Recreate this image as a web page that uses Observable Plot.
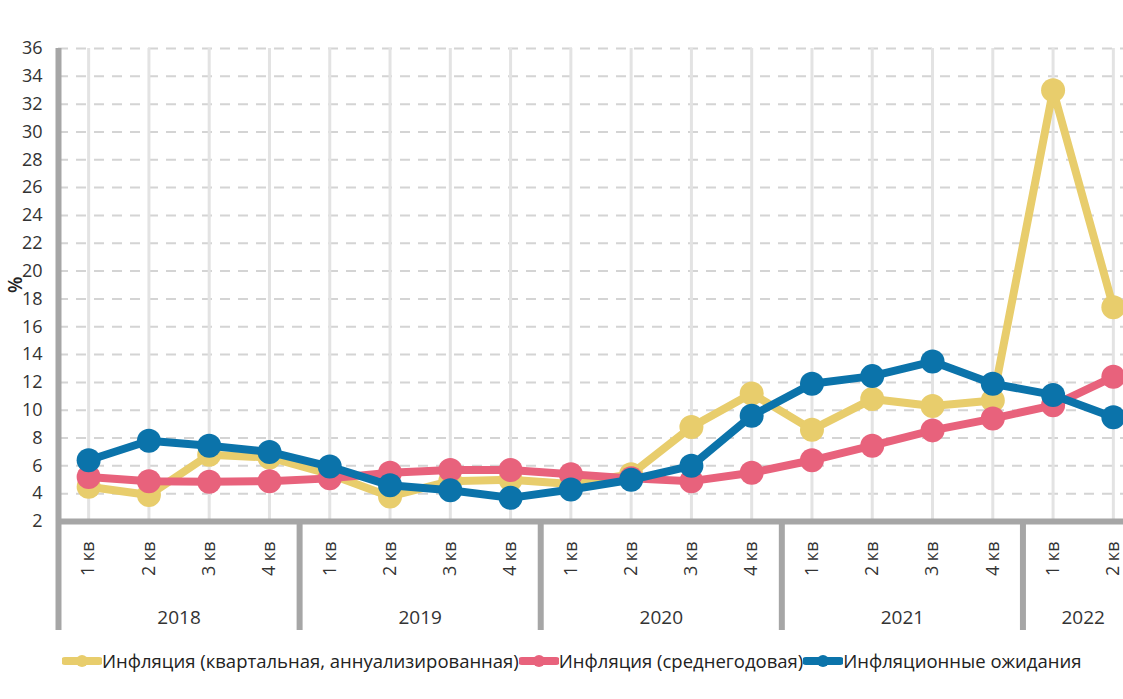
<!DOCTYPE html>
<html><head><meta charset="utf-8">
<script src="https://cdn.jsdelivr.net/npm/d3@7"></script>
<script src="https://cdn.jsdelivr.net/npm/@observablehq/plot@0.6"></script>
<style>
body{margin:0;background:#fff;font-family:"Open Sans","Noto Sans",sans-serif;}
#chart{width:1123px;overflow:hidden;}
#chart svg{overflow:hidden;}
.legend{display:flex;align-items:center;padding-left:62px;margin-top:8px;font-size:18.5px;color:#222;white-space:nowrap;}
.legend .item{display:flex;align-items:center;}
.legend svg{display:block;margin-right:0px;}
</style></head><body>
<div id="chart"></div>
<div class="legend" id="legend"></div>
<script>
const years = [2018, 2019, 2020, 2021, 2022];
const quarterLabels = ["1 кв","2 кв","3 кв","4 кв","1 кв","2 кв","3 кв","4 кв","1 кв","2 кв","3 кв","4 кв","1 кв","2 кв","3 кв","4 кв","1 кв","2 кв"];
const quarterYears = [2018,2018,2018,2018,2019,2019,2019,2019,2020,2020,2020,2020,2021,2021,2021,2021,2022,2022];
const yTicks = [2,4,6,8,10,12,14,16,18,20,22,24,26,28,30,32,34,36];
const yLabel = "%";

const inflQuarterly = [4.5, 3.9, 6.8, 6.6, 5.4, 3.8, 4.9, 5.0, 4.7, 5.4, 8.8, 11.2, 8.6, 10.8, 10.3, 10.7, 33.0, 17.4];
const inflAverage   = [5.2, 4.9, 4.85, 4.9, 5.1, 5.5, 5.7, 5.7, 5.4, 5.1, 4.9, 5.5, 6.4, 7.45, 8.55, 9.4, 10.35, 12.4];
const inflExpect    = [6.4, 7.8, 7.45, 7.0, 5.95, 4.6, 4.25, 3.7, 4.3, 5.0, 6.0, 9.6, 11.9, 12.45, 13.5, 11.9, 11.1, 9.5];

const seriesNames = ["Инфляция (квартальная, аннуализированная)", "Инфляция (среднегодовая)", "Инфляционные ожидания"];
const seriesColors = ["#e8cd6c", "#e8627c", "#0b73aa"];
const seriesValues = [inflQuarterly, inflAverage, inflExpect];

const idx = quarterLabels.map((_, i) => i);
const yearFirst = years.map(y => quarterYears.indexOf(y));
const yearLast = years.map(y => quarterYears.lastIndexOf(y));
const yearBounds = yearFirst.map(i => i - 0.5);
const yearCenters = years.map((y, k) => (yearFirst[k] + yearLast[k]) / 2);

const axisGrey = "#a6a6a6";

const seriesMarks = seriesValues.flatMap((vals, s) => {
  const data = vals.map((v, i) => ({i, v}));
  return [
    Plot.line(data, {x: "i", y: "v", stroke: seriesColors[s], strokeWidth: 8, strokeLinejoin: "round"}),
    Plot.dot(data, {x: "i", y: "v", fill: seriesColors[s], r: 12, stroke: "none"})
  ];
});

const chart = Plot.plot({
  width: 1123,
  height: 640,
  marginTop: 48,
  marginBottom: 119,
  marginLeft: 58,
  marginRight: -20,
  style: {fontFamily: '"Open Sans","Noto Sans",sans-serif', fontSize: "18px", color: "#333", background: "white"},
  x: {domain: [-0.5, quarterLabels.length - 0.5]},
  y: {domain: [2, 36]},
  marks: [
    Plot.gridY(yTicks.filter(t => t > 2), {stroke: "#d4d4d4", strokeOpacity: 1, strokeWidth: 2, strokeDasharray: "10,8"}),
    Plot.gridX(idx, {stroke: "#e3e3e3", strokeOpacity: 1, strokeWidth: 3}),
    Plot.axisY(yTicks, {tickSize: 0, tickPadding: 16, fontSize: 18, label: null}),
    Plot.text([yLabel], {frameAnchor: "left", rotate: -90, dx: -43, dy: 8, fontSize: 19, fontWeight: "600", fill: "#222"}),
    Plot.axisX(idx, {tickSize: 0, tickPadding: 20, tickRotate: -90, fontSize: 18, tickFormat: i => quarterLabels[i], label: null}),
    Plot.axisX(yearCenters, {tickSize: 0, tickPadding: 89, fontSize: 19, tickFormat: d => String(years[yearCenters.indexOf(d)]), label: null}),
    Plot.axisX(yearBounds, {tickSize: 109, stroke: axisGrey, strokeWidth: 6, strokeOpacity: 1, tickFormat: () => "", label: null}),
    Plot.ruleY([2], {stroke: axisGrey, strokeWidth: 6}),
    Plot.ruleX([-0.5], {stroke: axisGrey, strokeWidth: 6}),
    ...seriesMarks
  ]
});
document.getElementById("chart").appendChild(chart);

const legend = document.getElementById("legend");
seriesNames.forEach((name, s) => {
  const item = document.createElement("div");
  item.className = "item";
  item.innerHTML = `<svg width="40" height="16"><line x1="3" y1="8" x2="37" y2="8" stroke="${seriesColors[s]}" stroke-width="8" stroke-linecap="round"/><circle cx="20" cy="8" r="6" fill="${seriesColors[s]}"/></svg><span>${name}</span>`;
  legend.appendChild(item);
});
</script>
</body></html>
